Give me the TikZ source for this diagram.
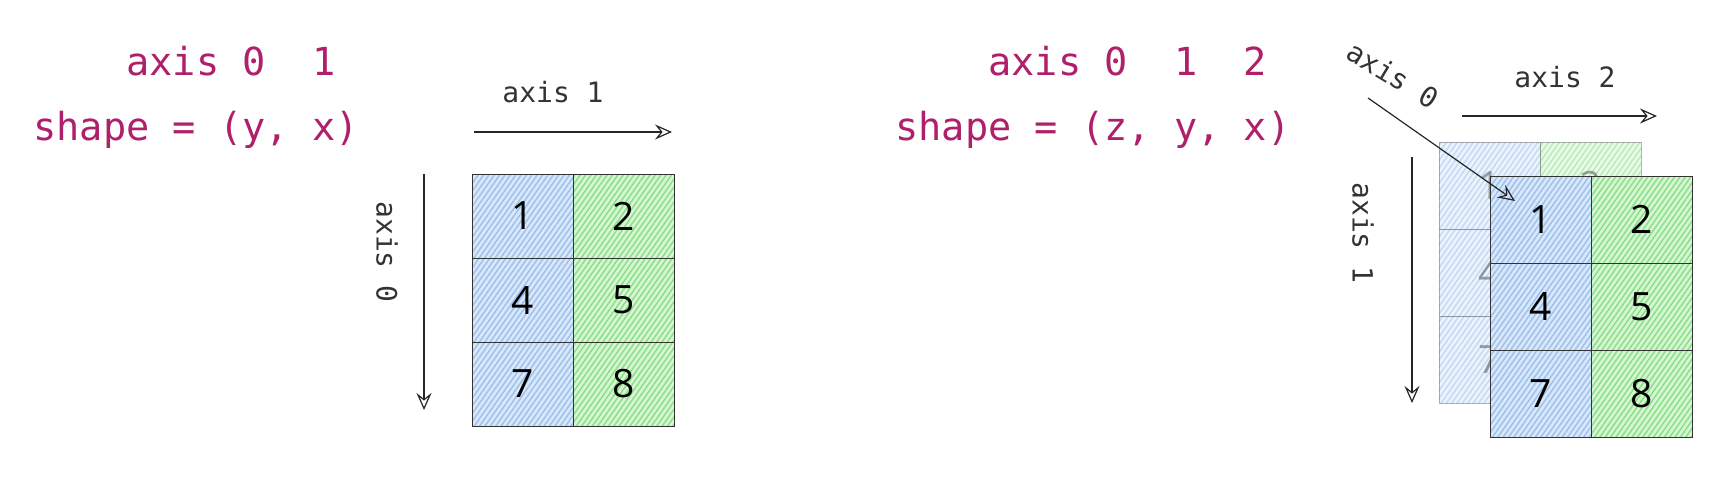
\documentclass[tikz,border=0pt]{standalone}
\usepackage{fontspec}
\setmonofont{DejaVu Sans Mono}
\newfontfamily\numfont{Open Sans}
\usepackage{xcolor}
\usetikzlibrary{positioning,arrows.meta,patterns.meta}
\definecolor{shapered}{RGB}{176,32,106}
\definecolor{bluefill}{RGB}{216,231,249}
\definecolor{blueline}{RGB}{156,192,236}
\definecolor{greenfill}{RGB}{214,246,210}
\definecolor{greenline}{RGB}{134,222,134}

\begin{document}
\begin{tikzpicture}[x=0.5pt, y=-0.5pt, node distance=0pt,
	>={Stealth[open, length=8.5pt, width=7.5pt, inset=3pt]},
	code/.style={font=\ttfamily\fontsize{19.3}{23}\selectfont, text=shapered, anchor=base west, inner sep=0pt},
	axlabel/.style={font=\ttfamily\fontsize{14}{17}\selectfont, text=black!80},
	axarrow/.style={->, line width=0.6pt, draw=black!85},
	cell/.style={draw=black!80, line width=0.5pt, outer sep=0pt, inner sep=0pt, minimum width=50.5pt,
		font=\numfont\fontsize{19.5}{23}\selectfont},
	bcell/.style={cell, preaction={fill=bluefill}, pattern={Lines[angle=55, distance=2.2pt, line width=0.7pt]}, pattern color=blueline},
	gcell/.style={cell, preaction={fill=greenfill}, pattern={Lines[angle=55, distance=2.2pt, line width=0.7pt]}, pattern color=greenline},
	back/.style={opacity=0.5, draw=black!60, text=black!70}]
	\useasboundingbox (0,0) rectangle (1730,482);

	% 2d array
	\node[code] (ax2d) at (33,75)  {\ \ \ \ axis 0\ \ 1};
	\node[code] (sh2d) at (33,140) {shape = (y, x)};

	\begin{scope}[every node/.append style={minimum height=42pt}]
	\node[bcell, anchor=north west] (l1) at (472,174) {1};
	\node[gcell] (l2) [right=of l1] {2};
	\node[bcell] (l4) [below=of l1] {4};
	\node[gcell] (l5) [right=of l4] {5};
	\node[bcell] (l7) [below=of l4] {7};
	\node[gcell] (l8) [right=of l7] {8};
	\end{scope}

	\coordinate (la1s) at (474,132);
	\coordinate (la1e) at (672,132);
	\coordinate (la0s) at (424,174);
	\coordinate (la0e) at (424,410);
	\node[axlabel] (la1) at (553,92) {axis 1};
	\node[axlabel, rotate=-90] (la0) at (387,252) {axis 0};
	\draw[axarrow] (la1s) -- (la1e);
	\draw[axarrow] (la0s) -- (la0e);

	% 3d array
	\node[code] (ax3d) at (895,75)  {\ \ \ \ axis 0\ \ 1\ \ 2};
	\node[code] (sh3d) at (895,140) {shape = (z, y, x)};

	\begin{scope}[every node/.append style={minimum height=43.5pt}]
	% back layer
	\node[bcell, back, anchor=north west] (b1) at (1439,142) {1};
	\node[gcell, back] (b2) [right=of b1] {2};
	\node[bcell, back] (b4) [below=of b1] {4};
	\node[gcell, back] (b5) [right=of b4] {5};
	\node[bcell, back] (b7) [below=of b4] {7};
	\node[gcell, back] (b8) [right=of b7] {8};
	% front layer
	\node[bcell, anchor=north west] (f1) at (1490,176) {1};
	\node[gcell] (f2) [right=of f1] {2};
	\node[bcell] (f4) [below=of f1] {4};
	\node[gcell] (f5) [right=of f4] {5};
	\node[bcell] (f7) [below=of f4] {7};
	\node[gcell] (f8) [right=of f7] {8};
	\end{scope}

	\coordinate (ra2s) at (1462,116);
	\coordinate (ra2e) at (1657,116);
	\coordinate (ra1s) at (1412,157);
	\coordinate (ra1e) at (1412,403);
	\coordinate (ra0s) at (1368,98);
	\coordinate (ra0e) at (1515,201);
	\node[axlabel] (ra2) at (1565,77) {axis 2};
	\node[axlabel, rotate=-90] (ra1) at (1363,233) {axis 1};
	\node[axlabel, rotate=-31] (ra0) at (1393,75) {axis 0};
	\draw[axarrow] (ra2s) -- (ra2e);
	\draw[axarrow] (ra1s) -- (ra1e);
	\draw[axarrow] (ra0s) -- (ra0e);
\end{tikzpicture}
\end{document}
